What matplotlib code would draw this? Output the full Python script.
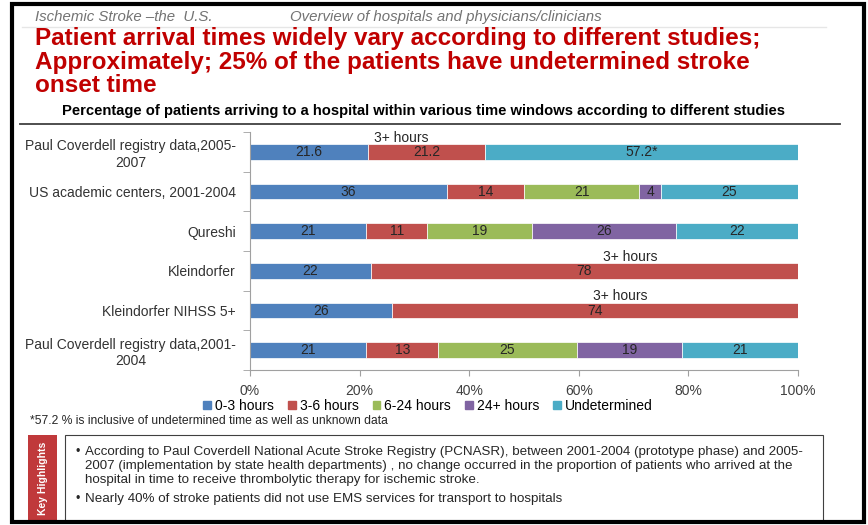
import matplotlib.pyplot as plt
import numpy as np
from matplotlib.patches import Patch, Rectangle
from matplotlib.lines import Line2D

plt.rcParams['font.family'] = ['Liberation Sans', 'DejaVu Sans']

# chart data
studies = [
    "Paul Coverdell registry data,2005-\n2007",
    "US academic centers, 2001-2004",
    "Qureshi",
    "Kleindorfer",
    "Kleindorfer NIHSS 5+",
    "Paul Coverdell registry data,2001-\n2004",
]
series = ["0-3 hours", "3-6 hours", "6-24 hours", "24+ hours", "Undetermined"]
h0_3 = [21.6, 36, 21, 22, 26, 21]
h3_6 = [21.2, 14, 11, 78, 74, 13]
h6_24 = [0, 21, 19, 0, 0, 25]
h24_plus = [0, 4, 26, 0, 0, 19]
undetermined = [57.2, 25, 22, 0, 0, 21]
colors = ["#4F81BD", "#C0504D", "#9BBB59", "#8064A2", "#4BACC6"]

# "3+ hours" notes: row index -> x position (percent)
three_plus_rows = [0, 3, 4]
three_plus_x = [27.6, 69.3, 67.5]

W, H = 868, 525
fig = plt.figure(figsize=(W / 100, H / 100), dpi=100)


def fx(px):
    return px / W


def fy(py):
    return 1 - py / H


#
# header and titles
#
fig.text(fx(35), fy(17), "Ischemic Stroke \u2013the  U.S.", style="italic",
         color="#737373", fontsize=10.8, va="center")
fig.text(fx(290), fy(17), "Overview of hospitals and physicians/clinicians",
         style="italic", color="#737373", fontsize=10.8, va="center")
fig.add_artist(Line2D([fx(22), fx(826)], [fy(27), fy(27)], color="#E6E6E6", lw=1))

title = ["Patient arrival times widely vary according to different studies;",
         "Approximately; 25% of the patients have undetermined stroke",
         "onset time"]
for i, line in enumerate(title):
    fig.text(fx(35), fy(38 + 24 * i), line, color="#C00000", fontsize=17.5,
             fontweight="bold", va="center")

fig.text(fx(423), fy(111),
         "Percentage of patients arriving to a hospital within various time "
         "windows according to different studies",
         fontsize=10.6, fontweight="bold", ha="center", va="center")
fig.add_artist(Line2D([fx(20), fx(840)], [fy(124), fy(124)], color="#404040", lw=1.3))

#
# stacked bars
#
ax = fig.add_axes([fx(250), fy(370), fx(798) - fx(250), fy(132) - fy(370)])
data = np.array([h0_3, h3_6, h6_24, h24_plus, undetermined], dtype=float)
pct = data / data.sum(axis=0) * 100
y = np.arange(len(studies))
left = np.zeros(len(studies))
for k in range(len(series)):
    ax.barh(y, pct[k], left=left, height=0.4, color=colors[k],
            edgecolor="white", lw=0.5, label=series[k])
    for i in range(len(studies)):
        if data[k, i] > 0:
            v = data[k, i]
            txt = ("%g" % v) + ("*" if (k == 4 and i == 0) else "")
            ax.text(left[i] + pct[k, i] / 2, y[i], txt, ha="center",
                    va="center", fontsize=10, color="#262626")
    left += pct[k]

for r, xp in zip(three_plus_rows, three_plus_x):
    ax.text(xp, y[r] - 0.36, "3+ hours", ha="center", va="center",
            fontsize=10, color="#262626")

ax.set_xlim(0, 100)
ax.set_ylim(len(studies) - 0.5, -0.5)
ax.set_xticks(np.arange(0, 101, 20))
ax.set_xticklabels(["%d%%" % v for v in range(0, 101, 20)], fontsize=10,
                   color="#404040")
ax.set_yticks(y)
ax.set_yticklabels(studies, fontsize=10, color="#333333", multialignment="center")
ax.set_yticks(np.arange(-0.5, len(studies), 1), minor=True)
ax.tick_params(axis="y", which="major", length=0, pad=10)
ax.tick_params(axis="y", which="minor", length=5, color="#A0A0A0")
ax.tick_params(axis="x", length=4, color="#A0A0A0", pad=6)
for s in ["top", "right"]:
    ax.spines[s].set_visible(False)
for s in ["left", "bottom"]:
    ax.spines[s].set_color("#A0A0A0")

handles = [Patch(color=c, label=s) for c, s in zip(colors, series)]
fig.legend(handles=handles, loc="center", bbox_to_anchor=(fx(428), fy(406)),
           ncol=5, frameon=False, fontsize=10, handlelength=0.55,
           handleheight=0.55, handletextpad=0.3, columnspacing=1.0)

fig.text(fx(30), fy(421), "*57.2 % is inclusive of undetermined time as well as unknown data",
         fontsize=8.7, va="center", color="#262626")

#
# key highlights box
#
fig.add_artist(Rectangle((fx(28), fy(521)), fx(57) - fx(28), fy(435) - fy(521),
                         transform=fig.transFigure, facecolor="#C0393B",
                         edgecolor="none"))
fig.text(fx(42.5), fy(478), "Key Highlights", rotation=90, color="white",
         fontsize=7.5, fontweight="bold", ha="center", va="center")
fig.add_artist(Rectangle((fx(65), fy(521)), fx(823) - fx(65), fy(435) - fy(521),
                         transform=fig.transFigure, facecolor="none",
                         edgecolor="#404040", lw=0.8))
bullets = [
    ["According to Paul Coverdell National Acute Stroke Registry (PCNASR), between 2001-2004 (prototype phase) and 2005-",
     "2007 (implementation by state health departments) , no change occurred in the proportion of patients who arrived at the",
     "hospital in time to receive thrombolytic therapy for ischemic stroke."],
    ["Nearly 40% of stroke patients did not use EMS services for transport to hospitals"],
]
line_y = [[452, 466, 480], [499]]
for b, ys in zip(bullets, line_y):
    fig.text(fx(75), fy(ys[0]), "\u2022", fontsize=9, va="center", color="#262626")
    for line, yy in zip(b, ys):
        fig.text(fx(85), fy(yy), line, fontsize=9.6, va="center", color="#262626")

# outer frame
fig.add_artist(Rectangle((fx(12), fy(522)), fx(864) - fx(12), fy(4) - fy(522),
                         transform=fig.transFigure, facecolor="none",
                         edgecolor="black", lw=3))

fig.savefig("out.png", dpi=100)
